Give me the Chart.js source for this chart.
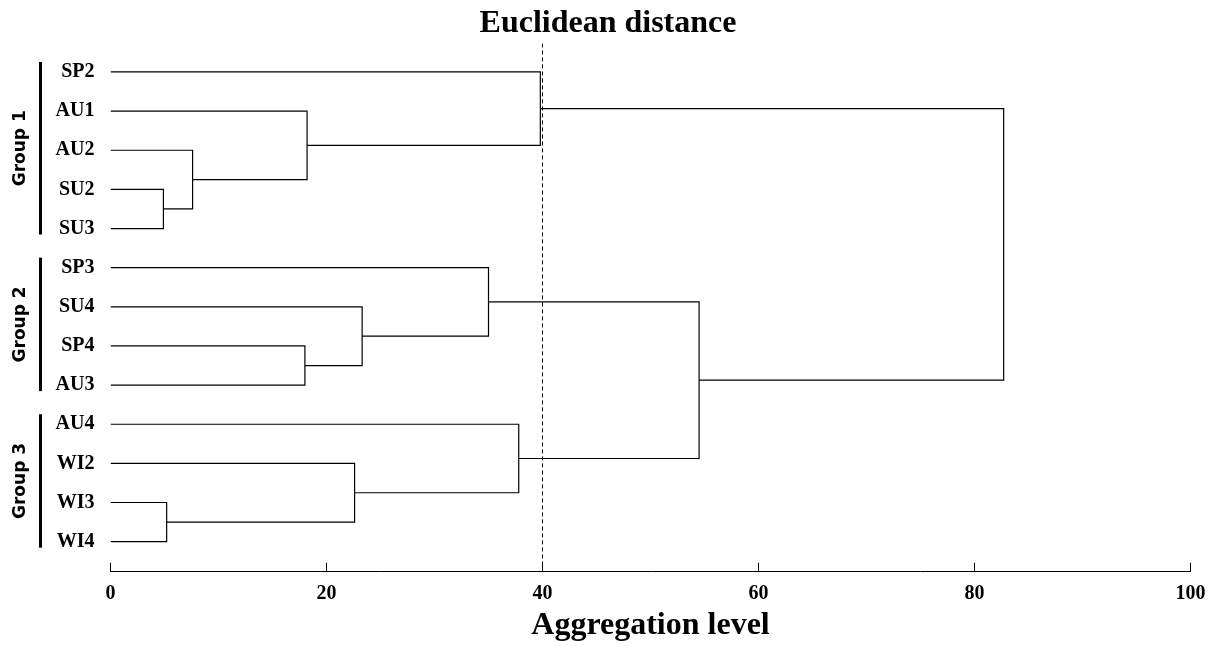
<!DOCTYPE html>
<html>
<head>
<meta charset="utf-8">
<title>Euclidean distance</title>
<script src="https://cdn.jsdelivr.net/npm/chart.js@4/dist/chart.umd.min.js"></script>
<style>
  html, body { margin: 0; padding: 0; background: #fff; }
  canvas { display: block; }
</style>
</head>
<body>
<canvas id="dendro" width="1216" height="646"></canvas>
<script>
// Leaves, top to bottom
const leaves = ['SP2', 'AU1', 'AU2', 'SU2', 'SU3', 'SP3', 'SU4', 'SP4', 'AU3', 'AU4', 'WI2', 'WI3', 'WI4'];

// Linkage: node 13 + k joins mergeLeft[k] and mergeRight[k] at mergeHeight[k]
const mergeLeft   = [3,   2,   1,    0,    7,    6,    5,    11,  10,   9,    19,   16];
const mergeRight  = [4,   13,  14,   15,   8,    17,   18,   12,  20,   21,   22,   23];
const mergeHeight = [4.9, 7.6, 18.2, 39.8, 18.0, 23.3, 35.0, 5.2, 22.6, 37.8, 54.5, 82.7];

// Cut level (dashed line)
const cutLevel = 40;

// X axis ticks
const xTicks = [0, 20, 40, 60, 80, 100];

// Groups (leaf index ranges)
const groupNames = ['Group 1', 'Group 2', 'Group 3'];
const groupFirst = [0, 5, 9];
const groupLast  = [4, 8, 12];

const Y_MIN = -0.73;
const Y_MAX = 12.77;
const serif = 'Liberation Serif';

// Position and height of every node (leaves first, then merges)
const nodeY = leaves.map((_, i) => i);
const nodeH = leaves.map(() => 0);
mergeHeight.forEach((h, k) => {
    nodeY.push((nodeY[mergeLeft[k]] + nodeY[mergeRight[k]]) / 2);
    nodeH.push(h);
});

// One bracket per merge
const datasets = mergeHeight.map((h, k) => {
    const a = mergeLeft[k], b = mergeRight[k];
    return {
        data: [
            { x: nodeH[a], y: nodeY[a] },
            { x: h, y: nodeY[a] },
            { x: h, y: nodeY[b] },
            { x: nodeH[b], y: nodeY[b] }
        ],
        showLine: true,
        borderColor: '#000',
        borderWidth: 1.2,
        pointRadius: 0,
        tension: 0
    };
});

datasets.push({
    data: [{ x: cutLevel, y: Y_MIN }, { x: cutLevel, y: Y_MAX }],
    showLine: true,
    borderColor: '#000',
    borderWidth: 1,
    borderDash: [4, 3],
    pointRadius: 0
});

// Upward tick marks on the x axis, plus group bars and labels
const extraMarks = {
    id: 'extraMarks',
    afterDraw(chart) {
        const ctx = chart.ctx;
        const xs = chart.scales.x;
        const ys = chart.scales.y;
        ctx.save();
        ctx.strokeStyle = '#000';
        ctx.lineWidth = 1;
        xTicks.forEach(v => {
            const px = Math.floor(xs.getPixelForValue(v)) + 0.5;
            ctx.beginPath();
            ctx.moveTo(px, xs.top - 9);
            ctx.lineTo(px, xs.top);
            ctx.stroke();
        });

        ctx.fillStyle = '#000';
        groupNames.forEach((name, g) => {
            const top = ys.getPixelForValue(groupFirst[g]) - 10;
            const bottom = ys.getPixelForValue(groupLast[g]) + 6;
            ctx.fillRect(39, top, 3, bottom - top);
            ctx.save();
            ctx.translate(24.5, (top + bottom) / 2);
            ctx.rotate(-Math.PI / 2);
            ctx.font = 'bold 17px "DejaVu Sans"';
            ctx.textAlign = 'center';
            ctx.textBaseline = 'alphabetic';
            ctx.fillText(name, 0, 0);
            ctx.restore();
        });
        ctx.restore();
    }
};

new Chart(document.getElementById('dendro'), {
    type: 'scatter',
    data: { datasets: datasets },
    options: {
        responsive: false,
        animation: false,
        layout: { padding: { left: 0, right: 0, top: 0, bottom: 11 } },
        scales: {
            x: {
                type: 'linear',
                position: 'bottom',
                min: 0,
                max: 100,
                afterBuildTicks: s => { s.ticks = xTicks.map(v => ({ value: v })); },
                grid: { display: false, drawTicks: false },
                border: { display: true, color: '#000', width: 1 },
                ticks: {
                    color: '#000',
                    padding: 10,
                    font: { family: serif, size: 20, weight: 'bold' }
                },
                title: {
                    display: true,
                    text: 'Aggregation level',
                    color: '#000',
                    padding: { top: 0, bottom: 0 },
                    font: { family: serif, size: 32, weight: 'bold', lineHeight: 0.6 }
                }
            },
            y: {
                type: 'linear',
                reverse: true,
                min: Y_MIN,
                max: Y_MAX,
                afterBuildTicks: s => { s.ticks = leaves.map((_, i) => ({ value: i })); },
                afterFit: s => { s.width = 110.5; },
                grid: { display: false, drawTicks: false },
                border: { display: false },
                ticks: {
                    autoSkip: false,
                    color: '#000',
                    padding: 16,
                    callback: v => leaves[v],
                    font: { family: serif, size: 20, weight: 'bold' }
                }
            },
            // empty right-hand margin
            yRight: {
                type: 'linear',
                position: 'right',
                afterFit: s => { s.width = 25.5; },
                grid: { display: false, drawTicks: false },
                border: { display: false },
                ticks: { display: false }
            }
        },
        plugins: {
            legend: { display: false },
            tooltip: { enabled: false },
            title: {
                display: true,
                text: 'Euclidean distance',
                color: '#000',
                padding: { top: 5, bottom: 0 },
                font: { family: serif, size: 32, weight: 'bold' }
            }
        }
    },
    plugins: [extraMarks]
});
</script>
</body>
</html>
